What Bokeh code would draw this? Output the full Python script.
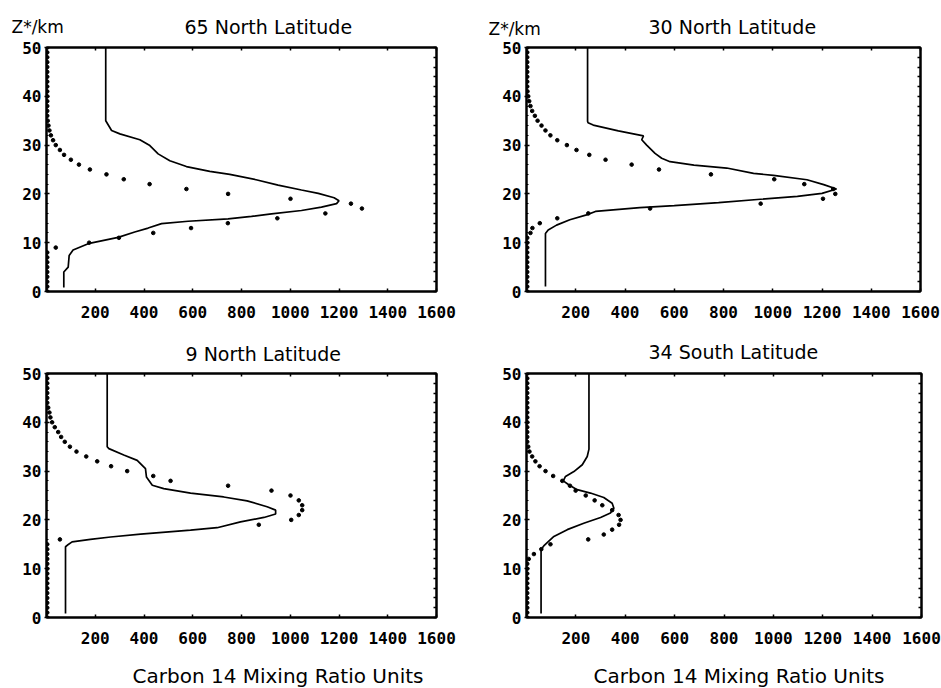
from bokeh.plotting import figure
from bokeh.models import Range1d, LinearAxis, FixedTicker, Title
from bokeh.layouts import gridplot
from bokeh.embed import file_html
from bokeh.resources import INLINE

NA = float("nan")  # level where no observation is visible

# ---------------- data ----------------
altitude_km = [0, 1, 2, 3, 4, 5, 6, 7, 8, 9, 10, 11, 12, 13, 14, 15, 16, 17, 18, 19, 20,
               21, 22, 23, 24, 25, 26, 27, 28, 29, 30, 31, 32, 33, 34, 35, 36, 37, 38, 39, 40,
               41, 42, 43, 44, 45, 46, 47, 48, 49, 50]

x_ticks = [200, 400, 600, 800, 1000, 1200, 1400, 1600]
y_ticks = [0, 10, 20, 30, 40, 50]
side_ticks = [0, 2, 4, 6, 8, 10, 12, 14, 16, 18, 20, 22, 24, 26, 28, 30, 32, 34, 36, 38, 40,
              42, 44, 46, 48, 50]

# observed (dots) mixing ratios at each km
obs_65N = [3, 3, 3, 3, 3, 3, 3, 3, 3, 38, 175, 297, 438, 593, 744, 947, 1144, 1294, 1249, 1001, 745,
           574, 423, 317, 246, 178, 133, 100, 72, 55, 38, 27, 18, 12, 8, 5, 3, 3, 3, 3, 3,
           3, 3, 3, 3, 3, 3, 3, 3, 3, 3]
obs_30N = [3, 3, 3, 3, 3, 3, 3, 3, 3, 3, 3, 3, 16, 24, 54, 125, 251, 502, 951, 1204, 1254,
           1245, 1128, 1006, 749, 538, 427, 321, 255, 203, 164, 125, 97, 77, 61, 45, 34, 23, 16, 11, 7,
           4, 3, 3, 3, 3, 3, 3, 3, 3, 3]
obs_9N = [3, 3, 3, 3, 3, 3, 3, 3, 3, 3, 3, 3, 3, 3, 3, 3, 55, NA, NA, 871, 1004,
          1035, 1049, 1049, 1035, 1001, 923, 745, 509, 438, 331, 265, 208, 163, 123, 96, 75, 60, 48, 34, 23,
          16, 12, 7, 3, 3, 3, 3, 3, 3, 3]
obs_34S = [3, 3, 3, 3, 3, 3, 3, 3, 3, 3, 3, 3, 9, 30, 60, 97, 250, 313, 347, 375, 381,
           373, 347, 307, 276, 240, 199, 176, 145, 108, 77, 53, 36, 23, 12, 7, 3, 3, 3, 3, 3,
           3, 3, 3, 3, 3, 3, 3, 3, 3, 3]

# model (solid line) profiles
model_65N_val = [71, 71, 89, 93, 109, 171, 294, 362, 417, 472, 581, 745, 841, 923, 1046, 1128, 1190,
                 1200, 1180, 1115, 1046, 950, 860, 752, 670, 574, 506, 458, 424, 383, 301, 267, 243,
                 243]
model_65N_km = [0.8, 4.0, 5.0, 7.4, 8.5, 9.8, 11.1, 12.2, 13.0, 13.9, 14.4, 14.9, 15.4, 15.9, 16.6,
                17.3, 18.0, 18.6, 19.2, 20.1, 20.8, 21.8, 22.9, 24.0, 24.6, 25.6, 26.8, 28.2, 29.9,
                31.1, 32.3, 33.0, 35.0, 50]

model_30N_val = [77, 77, 88, 122, 176, 244, 280, 460, 600, 780, 950, 1100, 1200, 1259, 1207, 1139,
                 1003, 922, 813, 680, 583, 549, 522, 488, 468, 475, 373, 271, 250, 248, 248]
model_30N_km = [1.0, 11.9, 12.6, 13.6, 14.7, 15.7, 16.4, 17.2, 17.6, 18.2, 18.9, 19.5, 20.1, 21.0,
                21.9, 22.9, 23.8, 24.2, 25.3, 25.9, 26.6, 27.3, 28.3, 30.0, 31.1, 31.9, 32.9, 34.1,
                34.6, 34.9, 50]

model_9N_val = [78, 78, 85, 105, 180, 263, 386, 591, 700, 796, 892, 940, 940, 905, 823, 727, 591, 481,
                434, 410, 406, 372, 317, 256, 249, 249]
model_9N_km = [0.8, 14.5, 14.8, 15.5, 16.0, 16.5, 17.1, 17.9, 18.4, 19.6, 20.5, 21.2, 22.0, 22.7,
               23.9, 24.7, 25.5, 26.4, 27.1, 28.8, 30.5, 32.2, 33.3, 34.6, 35.0, 50]

model_34S_val = [59, 59, 63, 72, 111, 165, 232, 300, 340, 354, 347, 313, 259, 205, 171, 149, 158, 192,
                 226, 246, 253, 253]
model_34S_km = [0.8, 13.8, 14.2, 14.8, 16.6, 18.0, 19.3, 20.5, 21.4, 22.4, 23.4, 24.6, 25.5, 26.2,
                27.2, 28.0, 28.9, 29.9, 31.3, 33.0, 34.5, 50]

titles = ["65 North Latitude", "30 North Latitude", "9 North Latitude", "34 South Latitude"]
y_label = "Z*/km"
x_label = "Carbon 14 Mixing Ratio Units"

TICK_FONT = "DejaVu Sans Mono"
TEXT_FONT = "DejaVu Sans"


def hidden_label_axis(ticks):
    return LinearAxis(ticker=FixedTicker(ticks=ticks, minor_ticks=[]),
                      major_label_text_font_size="1px", major_label_text_color=None,
                      major_label_text_alpha=0,
                      major_tick_in=3, major_tick_out=0, minor_tick_in=0, minor_tick_out=0,
                      axis_line_width=2, major_tick_line_width=1.5, major_label_standoff=0)


def make_panel(model_val, model_km, obs, title, frame, title_offset, title_standoff,
               zlabel=None, xlabel=None):
    left, top, fw, fh, right, bottom = frame
    p = figure(frame_width=fw, frame_height=fh,
               min_border_left=left, min_border_right=right,
               min_border_top=top, min_border_bottom=bottom,
               x_range=Range1d(0, 1600), y_range=Range1d(0, 50),
               x_axis_location=None, y_axis_location=None,
               title=title, output_backend="svg", toolbar_location=None)
    p.grid.visible = False
    p.background_fill_color = "white"
    p.border_fill_color = "white"
    p.outline_line_color = "black"
    p.outline_line_width = 2

    p.title.align = "left"
    p.title.vertical_align = "top"
    p.title.offset = title_offset
    p.title.standoff = title_standoff
    p.title.text_font = TEXT_FONT
    p.title.text_font_size = "19px"
    p.title.text_font_style = "normal"
    p.title.text_color = "black"

    xb = LinearAxis(ticker=FixedTicker(ticks=x_ticks, minor_ticks=[]),
                    major_label_text_font=TICK_FONT, major_label_text_font_style="bold",
                    major_label_text_font_size="16px", major_label_text_color="black",
                    major_tick_in=3, major_tick_out=0, minor_tick_in=0, minor_tick_out=0,
                    axis_line_width=2, major_tick_line_width=1.5, major_label_standoff=14)
    p.add_layout(xb, "below")
    p.add_layout(hidden_label_axis(x_ticks), "above")

    yl = LinearAxis(ticker=FixedTicker(ticks=y_ticks, minor_ticks=side_ticks),
                    major_label_text_font=TICK_FONT, major_label_text_font_style="bold",
                    major_label_text_font_size="16px", major_label_text_color="black",
                    major_tick_in=3, major_tick_out=2, minor_tick_in=2, minor_tick_out=0,
                    axis_line_width=2, major_tick_line_width=1.5, major_label_standoff=3)
    p.add_layout(yl, "left")
    p.add_layout(hidden_label_axis(side_ticks), "right")

    p.line(model_val, model_km, line_color="black", line_width=1.7)
    p.scatter(obs, altitude_km, marker="circle", size=3.6, color="black")

    if zlabel is not None:
        z_off, z_standoff = zlabel
        p.add_layout(Title(text=y_label, align="left", vertical_align="top",
                           offset=z_off, standoff=z_standoff,
                           text_font=TEXT_FONT, text_font_size="17px",
                           text_font_style="normal", text_color="black"), "above")
    if xlabel is not None:
        x_off, x_standoff = xlabel
        p.add_layout(Title(text=x_label, align="left", vertical_align="bottom",
                           offset=x_off, standoff=x_standoff,
                           text_font=TEXT_FONT, text_font_size="20px",
                           text_font_style="normal", text_color="black"), "below")
    return p


p1 = make_panel(model_65N_val, model_65N_km, obs_65N, titles[0],
                (45, 47, 390, 244, 35, 39), 138, -63, zlabel=(-35, -61))
p2 = make_panel(model_30N_val, model_30N_km, obs_30N, titles[1],
                (53, 44, 394, 244, 24, 42), 122, -64, zlabel=(-38, -58))
p3 = make_panel(model_9N_val, model_9N_km, obs_9N, titles[2],
                (46, 43, 390, 244, 34, 71), 139, -62, xlabel=(86, -82))
p4 = make_panel(model_34S_val, model_34S_km, obs_34S, titles[3],
                (56, 42, 395, 244, 20, 72), 122, -66, xlabel=(67, -82))

grid = gridplot([[p1, p2], [p3, p4]], toolbar_location=None)

open("out.html", "w").write(file_html(grid, INLINE))
